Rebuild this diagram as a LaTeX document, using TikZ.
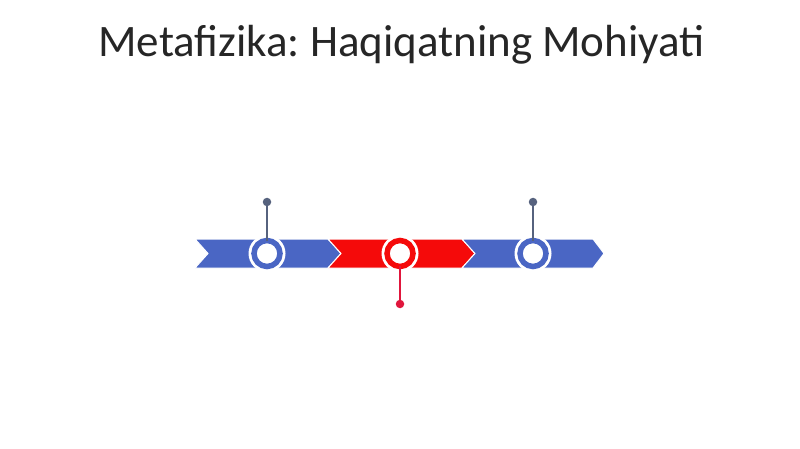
\documentclass[tikz,border=0pt]{standalone}
\usepackage{fontspec}
\setmainfont{Carlito}
\frenchspacing
\definecolor{bandblue}{HTML}{4A66C4}
\definecolor{bandred}{HTML}{F50A0A}
\definecolor{stemblue}{HTML}{56627E}
\definecolor{stemred}{HTML}{E0163C}
\definecolor{titlegray}{HTML}{262626}
\begin{document}
\begin{tikzpicture}[x=1pt,y=-1pt,
  chev/.style={draw=white,line width=1pt,line join=miter},
  ring/.style={circle,minimum size=26pt,line width=5.5pt,fill=white,draw=#1,inner sep=0pt},
  halo/.style={circle,minimum size=37pt,fill=white,inner sep=0pt},
  stemline/.style={line width=1.3pt,draw=#1},
  dot/.style={circle,fill=#1,minimum size=8.5pt,inner sep=0pt}]
\useasboundingbox (0,0) rectangle (800,449);
\node[text=titlegray,font=\fontsize{45}{50}\selectfont] (title) at (401.5,45) {Metafizika: Haqiqatning Mohiyati};
% chevrons
\fill[bandblue,chev] (195,239) -- (328,239) -- (341,253.5) -- (328,268) -- (195,268) -- (208,253.5) -- cycle;
\fill[bandred,chev] (328,239) -- (462,239) -- (475,253.5) -- (462,268) -- (328,268) -- (341,253.5) -- cycle;
\fill[bandblue,chev] (462,239) -- (593,239) -- (604,253.5) -- (593,268) -- (462,268) -- (475,253.5) -- cycle;
% stems
\node[dot=stemblue] (d1) at (267,202) {};
\node[dot=stemred] (d2) at (400,304) {};
\node[dot=stemblue] (d3) at (533,202) {};
\node[halo] (h1) at (267,253.5) {};
\node[halo] (h2) at (400,253.5) {};
\node[halo] (h3) at (533,253.5) {};
\node[ring=bandblue] (c1) at (267,253.5) {};
\node[ring=bandred] (c2) at (400,253.5) {};
\node[ring=bandblue] (c3) at (533,253.5) {};
\draw[stemline=stemblue] (d1) -- ([yshift=-3pt]c1.north);
\draw[stemline=stemred] (d2) -- ([yshift=3pt]c2.south);
\draw[stemline=stemblue] (d3) -- ([yshift=-3pt]c3.north);
\end{tikzpicture}
\end{document}
